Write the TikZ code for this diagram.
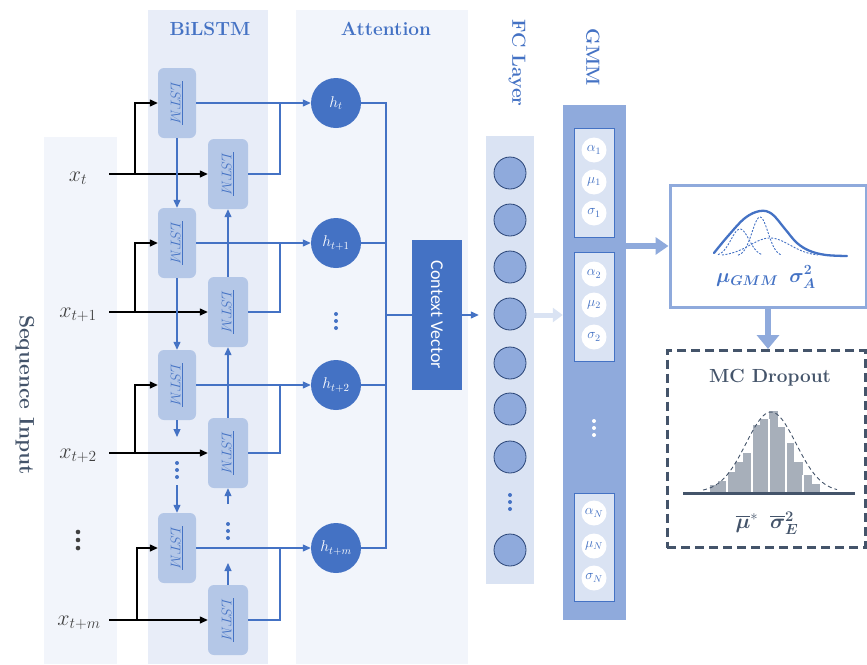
\RequirePackage{fix-cm}
\documentclass[tikz,border=0pt]{standalone}
\usepackage{fontspec}
\usepackage{amsmath}
\usepackage{graphicx}
\usetikzlibrary{arrows.meta,calc}
\newfontfamily\cvfont{Carlito}
\definecolor{acc}{HTML}{4472C4}
\definecolor{accL}{HTML}{8FAADC}
\definecolor{accLL}{HTML}{DAE3F3}
\definecolor{lstmfill}{HTML}{B4C7E7}
\definecolor{panelA}{HTML}{F2F5FB}
\definecolor{panelB}{HTML}{E8EDF8}
\definecolor{slate}{HTML}{44546A}
\definecolor{histbar}{HTML}{A7AFBA}
\definecolor{inktext}{HTML}{404040}
\tikzset{
  paneltitle/.style={font=\fontsize{19}{22}\selectfont\bfseries, text=acc, inner sep=0pt},
  lstm/.style={rounded corners=6pt, fill=lstmfill, minimum height=70pt, inner sep=0pt,
    text=acc, font=\fontsize{14}{15}\selectfont},
  hnode/.style={circle, fill=acc, minimum size=50pt, inner sep=0pt, text=white,
    font=\fontsize{15.5}{16}\selectfont},
  fcnode/.style={circle, fill=accL, draw=acc!60!black, line width=0.8pt, minimum size=32pt, inner sep=0pt},
  param/.style={circle, fill=white, minimum size=25pt, inner sep=0pt, text=acc,
    font=\fontsize{14}{15}\selectfont},
  parambox/.style={fill=accLL, draw=acc, line width=0.9pt, minimum width=40pt, inner sep=0pt},
  xin/.style={font=\fontsize{22}{24}\selectfont, text=inktext, inner sep=0pt},
  blk/.style={black, line width=1.3pt, -{Triangle[length=8pt,width=7pt]}},
  conn/.style={acc, line width=1.2pt},
  connarr/.style={conn, -{Triangle[length=8pt,width=7pt]}},
  fat/.style={accL, line width=5.5pt, -{Triangle[length=13pt,width=17pt]}},
  pale/.style={accLL, line width=5pt, -{Triangle[length=10pt,width=14pt]}},
  % three stacked dots
  vdotcol/.pic={\foreach \k in {-1,0,1} \fill (0,\k*7) circle (2);},
}
\begin{document}
\begin{tikzpicture}[x=1pt,y=-1pt]
\useasboundingbox (0,0) rectangle (867,664);

% column backgrounds
\fill[panelA] (44,137) rectangle (117,664);
\fill[panelB] (148,10) rectangle (268,664);
\fill[panelA] (296,10) rectangle (468,664);

% column titles
\node[paneltitle] (tBi) at (210,29) {BiLSTM};
\node[paneltitle] (tAtt) at (386,29) {Attention};
\node[paneltitle, rotate=-90] (tFC) at (517,63) {FC Layer};
\node[paneltitle, rotate=-90] (tGMM) at (593,57) {GMM};
\node[font=\fontsize{21}{24}\selectfont\bfseries, text=slate, rotate=-90, inner sep=0pt] (tSeq) at (25,395) {Sequence Input};

% inputs
\node[xin] (X1) at (78,178) {$x_t$};
\node[xin] (X2) at (78,315) {$x_{t+1}$};
\node[xin] (X3) at (78,456) {$x_{t+2}$};
\pic[inktext, scale=1.15] at (78,540) {vdotcol};
\node[xin] (X5) at (79,623) {$x_{t+m}$};

% forward LSTM cells
\node[lstm, minimum width=38pt] (F1) at (177,103) {\rotatebox{-90}{$\overline{LSTM}$}};
\node[lstm, minimum width=38pt] (F2) at (177,243) {\rotatebox{-90}{$\overline{LSTM}$}};
\node[lstm, minimum width=38pt] (F3) at (177,385) {\rotatebox{-90}{$\overline{LSTM}$}};
\node[lstm, minimum width=38pt] (F4) at (177,548) {\rotatebox{-90}{$\overline{LSTM}$}};
% backward LSTM cells
\node[lstm, minimum width=40pt] (B1) at (228,174) {\rotatebox{-90}{$\overline{LSTM}$}};
\node[lstm, minimum width=40pt] (B2) at (228,312) {\rotatebox{-90}{$\overline{LSTM}$}};
\node[lstm, minimum width=40pt] (B3) at (228,453) {\rotatebox{-90}{$\overline{LSTM}$}};
\node[lstm, minimum width=40pt] (B4) at (228,620) {\rotatebox{-90}{$\overline{LSTM}$}};

% input arrows
\coordinate (s1) at (109,174); \coordinate (j1) at (135,174);
\coordinate (s2) at (109,312); \coordinate (j2) at (135,312);
\coordinate (s3) at (109,453); \coordinate (j3) at (135,453);
\coordinate (s4) at (109,620); \coordinate (j4) at (137,620);
\draw[blk] (s1) -- (B1.west); \draw[blk] (j1) |- (F1.west);
\draw[blk] (s2) -- (B2.west); \draw[blk] (j2) |- (F2.west);
\draw[blk] (s3) -- (B3.west); \draw[blk] (j3) |- (F3.west);
\draw[blk] (s4) -- (B4.west); \draw[blk] (j4) |- (F4.west);

% forward chain
\draw[connarr] (F1.south) -- (F2.north);
\draw[connarr] (F2.south) -- (F3.north);
\coordinate (f3end) at (177,437);
\coordinate (f4beg) at (177,485);
\draw[connarr] (F3.south) -- (f3end);
\pic[acc] at (177,470) {vdotcol};
\draw[connarr] (f4beg) -- (F4.north);
% backward chain
\draw[connarr] (B2.north) -- (B1.south);
\draw[connarr] (B3.north) -- (B2.south);
\coordinate (b4end) at (228,563);
\coordinate (b3beg) at (228,504);
\draw[connarr] (B4.north) -- (b4end);
\pic[acc] at (228,531) {vdotcol};
\draw[connarr] (b3beg) -- (B3.south);

% attention states
\node[hnode] (H1) at (336,103) {$h_t$};
\node[hnode] (H2) at (336,243) {$h_{t+1}$};
\node[hnode] (H3) at (336,385) {$h_{t+2}$};
\node[hnode] (H4) at (336,548) {$h_{t+m}$};
\pic[acc] at (336,321) {vdotcol};

% BiLSTM outputs to attention
\coordinate (m1) at (280,103);
\coordinate (m2) at (280,243);
\coordinate (m3) at (280,385);
\coordinate (m4) at (280,548);
\draw[connarr] (F1.east) -- (H1.west); \draw[conn] (B1.east) -| (m1);
\draw[connarr] (F2.east) -- (H2.west); \draw[conn] (B2.east) -| (m2);
\draw[connarr] (F3.east) -- (H3.west); \draw[conn] (B3.east) -| (m3);
\draw[connarr] (F4.east) -- (H4.west); \draw[conn] (B4.east) -| (m4);

% context vector
\node[fill=acc, minimum width=50pt, minimum height=150pt, inner sep=0pt, text=white,
  font=\cvfont\fontsize{18}{20}\selectfont] (CV) at (437,315) {\rotatebox{-90}{Context Vector}};
\coordinate (busB) at (386,548);
\draw[conn] (H1.east) -| (busB) -- (H4.east);
\draw[conn] (H2.east) -- (H2.east -| busB);
\draw[conn] (H3.east) -- (H3.east -| busB);
\draw[conn] (CV.west -| busB) -- (CV.west);

% FC layer
\node[fill=accLL, minimum width=48pt, minimum height=448pt, inner sep=0pt] (FC) at (510,360) {};
\foreach \n/\yy in {1/173,2/220,3/267,4/314,5/363,6/409,7/457,8/550}
  \node[fcnode] (fc\n) at (510,\yy) {};
\pic[acc] at (510,502) {vdotcol};
\draw[connarr, shorten >=7pt] (CV.east) -- (CV.east -| FC.west);

% GMM layer
\node[fill=accL, minimum width=63pt, minimum height=515pt, inner sep=0pt] (GM) at (594.5,362.5) {};
\draw[pale] (FC.east |- CV.east) -- (GM.west |- CV.east);
\node[parambox, minimum height=109pt] (G1) at (594,182.5) {};
\node[parambox, minimum height=109pt] (G2) at (594,306.5) {};
\node[parambox, minimum height=108pt] (GN) at (594,547) {};
\node[param] (a1) at (594,150) {$\alpha_1$};
\node[param] (u1) at (594,182) {$\mu_1$};
\node[param] (s1p) at (594,213) {$\sigma_1$};
\node[param] (a2) at (594,274) {$\alpha_2$};
\node[param] (u2) at (594,305) {$\mu_2$};
\node[param] (s2p) at (594,337) {$\sigma_2$};
\node[param] (aN) at (594,513) {$\alpha_N$};
\node[param] (uN) at (594,546) {$\mu_N$};
\node[param] (sN) at (594,578) {$\sigma_N$};
\pic[white] at (594,428) {vdotcol};

% aleatoric output box
\node[draw=accL, line width=3pt, minimum width=196pt, minimum height=122pt, inner sep=0pt] (R) at (768,246) {};
\draw[fat] (GM.east |- R.west) -- (R.west);
\draw[acc, line width=2.3pt, line cap=round] plot[smooth, tension=0.6] coordinates
  {(714,253) (728,236) (745,218) (760,211) (772,214) (785,229) (797,243) (810,251) (826,255) (847,256)};
\draw[acc, line width=0.9pt, dash pattern=on 2pt off 1.5pt]
  plot[domain=718:762, samples=40] (\x,{256-27*exp(-((\x-740)^2)/(2*81))});
\draw[acc, line width=0.9pt, dash pattern=on 2pt off 1.5pt]
  plot[domain=738:782, samples=40] (\x,{256-39*exp(-((\x-760)^2)/(2*64))});
\draw[acc, line width=0.9pt, dash pattern=on 2pt off 1.5pt]
  plot[domain=722:818, samples=50] (\x,{256-18*exp(-((\x-770)^2)/(2*400))});
\node[text=acc, font=\fontsize{20}{22}\selectfont, inner sep=0pt] (muA) at (766,277)
  {$\boldsymbol{\mu_{GMM}}\;\;\boldsymbol{\sigma_A^2}$};

% epistemic (MC dropout) box
\node[draw=slate, line width=3pt, dash pattern=on 9pt off 5pt, minimum width=198pt,
  minimum height=197pt, inner sep=0pt] (D) at (766,449) {};
\draw[fat, -{Triangle[length=14pt,width=22pt]}] (R.south) -- (R.south |- D.north);
\node[text=slate, font=\fontsize{19}{22}\selectfont\bfseries, inner sep=0pt] (mc) at (770,378) {MC Dropout};

% histogram
\foreach \l/\r/\t in {710/718/485,718/727/481,727/735/472,735/743/462,743/752/453,
  752/760/425,760/769/419,769/778/411,778/786/427,786/794/443,794/803/462,803/812/475,812/820/484}
  \fill[histbar] (\l,492) rectangle (\r,\t);
\foreach \xx/\t in {727/472,752/425,769/419,786/427,803/475}
  \draw[white, line width=1.2pt] (\xx,492) -- (\xx,\t);
\draw[slate, line width=0.9pt, dash pattern=on 4pt off 3pt]
  plot[domain=703:837, samples=70] (\x,{492-80*exp(-((\x-771)^2)/(2*625))});
\draw[slate, line width=3pt] (683,493) -- (855,493);
\node[text=slate, font=\fontsize{21}{24}\selectfont, inner sep=0pt] (muE) at (767,523)
  {$\overline{\boldsymbol{\mu}}^{*}\;\;\overline{\boldsymbol{\sigma}}{}_{\boldsymbol{E}}^{\boldsymbol{2}}$};
\end{tikzpicture}
\end{document}
